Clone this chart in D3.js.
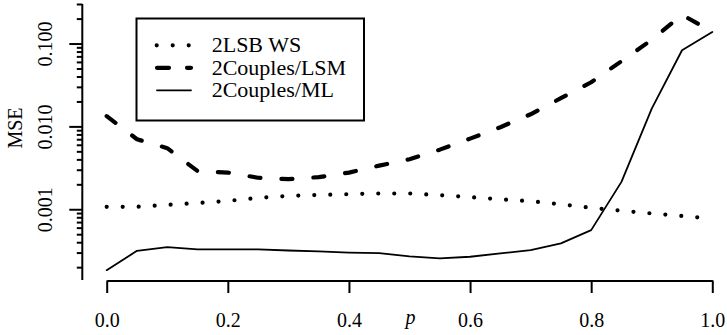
<html>
<script src="https://d3js.org/d3.v7.min.js"></script>
<body style="margin:0;background:#fff">
<style>
  svg text { font-family: "Liberation Serif", serif; fill: #000; }
</style>
<svg width="727" height="335"></svg>
<script>

// p grid
var pValues = [0, 0.05, 0.1, 0.15, 0.2, 0.25, 0.3, 0.35, 0.4, 0.45, 0.5,
               0.55, 0.6, 0.65, 0.7, 0.75, 0.8, 0.85, 0.9, 0.95, 1.0];

// MSE per method
var mse2LSB = [0.00107, 0.00107, 0.00113, 0.00119, 0.00126, 0.00137, 0.00145, 0.00149, 0.00152, 0.00155, 0.00155,
               0.00148, 0.00140, 0.00132, 0.00125, 0.00115, 0.00104, 0.00096, 0.00089, 0.00083, 0.00077];
var mseLSM  = [0.0133, 0.0070, 0.00546, 0.00289, 0.00277, 0.0024, 0.00231, 0.00244, 0.00277, 0.00336, 0.00402,
               0.00524, 0.00712, 0.00977, 0.0140, 0.0219, 0.0341, 0.0612, 0.111, 0.222, 0.139];
var mseML   = [0.000184, 0.000315, 0.000349, 0.000327, 0.000327, 0.000327, 0.000318, 0.00031, 0.0003, 0.000295, 0.00027,
               0.000255, 0.000267, 0.000293, 0.000321, 0.000387, 0.00056, 0.00214, 0.0164, 0.083, 0.138];

var seriesNames = ["2LSB WS", "2Couples/LSM", "2Couples/ML"];
var xTicks = [0, 0.2, 0.4, 0.6, 0.8, 1.0];
var yMajor = [0.001, 0.01, 0.1];
var yMinor = [0.0002, 0.0003, 0.0004, 0.0005, 0.0006, 0.0007, 0.0008, 0.0009,
              0.002, 0.003, 0.004, 0.005, 0.006, 0.007, 0.008, 0.009,
              0.02, 0.03, 0.04, 0.05, 0.06, 0.07, 0.08, 0.09,
              0.2, 0.3];

var serif = "'Liberation Serif', serif";
var svg = d3.select("svg");

var x = d3.scaleLinear().domain([0, 1]).range([106.7, 712.3]);
var y = d3.scaleLog().domain([1.4e-4, 0.3]).range([280, 4]);

var styles = [
  { dash: "0,16", width: 4.2, data: mse2LSB },
  { dash: "11,21", width: 4.2, data: mseLSM },
  { dash: null, width: 1.8, data: mseML }
];

var line = d3.line()
  .x(function(d, i) { return x(pValues[i]); })
  .y(function(d) { return y(d); });

styles.forEach(function(s) {
  svg.append("path")
    .datum(s.data)
    .attr("d", line)
    .style("fill", "none")
    .style("stroke", "black")
    .style("stroke-width", s.width)
    .style("stroke-linecap", "round")
    .style("stroke-linejoin", "round")
    .style("stroke-dasharray", s.dash);
});

// x axis
var gx = svg.append("g")
  .attr("transform", "translate(0,280.5)")
  .call(d3.axisBottom(x).tickValues(xTicks).tickFormat(d3.format(".1f")).tickSize(12.5).tickSizeOuter(0));
gx.attr("font-family", serif);
gx.selectAll("path, line").style("stroke", "black").style("stroke-width", 2);
gx.selectAll("text")
  .attr("y", 46.5).attr("dy", 0)
  .style("font-family", serif)
  .style("font-size", "20px");

// y axis: minor ticks then major with labels
var gyMinor = svg.append("g")
  .attr("transform", "translate(82.3,0)")
  .call(d3.axisLeft(y).tickValues(yMinor).tickFormat("").tickSize(5.5).tickSizeOuter(0));
gyMinor.select(".domain").attr("d", "M0,280V4");
gyMinor.selectAll("path, line").style("stroke", "black").style("stroke-width", 2);

var gy = svg.append("g")
  .attr("transform", "translate(82.3,0)")
  .call(d3.axisLeft(y).tickValues(yMajor).tickFormat(d3.format(".3f")).tickSize(13).tickSizeOuter(0));
gy.attr("font-family", serif);
gy.select(".domain").remove();
gy.selectAll("line").style("stroke", "black").style("stroke-width", 2);
gy.selectAll("text")
  .attr("transform", "rotate(-90)")
  .attr("x", 0).attr("y", -30.6).attr("dy", 0)
  .attr("text-anchor", "middle")
  .style("font-family", serif)
  .style("font-size", "20px");

// axis titles
svg.append("text")
  .attr("transform", "translate(22,128) rotate(-90)")
  .attr("text-anchor", "middle")
  .style("font-family", serif)
  .style("font-size", "20px")
  .text("MSE");

svg.append("text")
  .attr("x", x(0.5) + 1)
  .attr("y", 324)
  .attr("text-anchor", "middle")
  .style("font-family", serif)
  .style("font-size", "20px")
  .style("font-style", "italic")
  .text("p");

// legend
var legend = svg.append("g");
legend.append("rect")
  .attr("x", 136.5).attr("y", 18.5)
  .attr("width", 227.5).attr("height", 102)
  .style("fill", "white").style("stroke", "black").style("stroke-width", 2);

var rowY = [45.3, 67.8, 90.3];
seriesNames.forEach(function(name, i) {
  var s = styles[i];
  legend.append("line")
    .attr("x1", i === 0 ? 156.7 : 157).attr("x2", i === 0 ? 189.5 : 191)
    .attr("y1", rowY[i]).attr("y2", rowY[i])
    .style("stroke", "black")
    .style("stroke-width", s.width)
    .style("stroke-linecap", "round")
    .style("stroke-dasharray", i === 1 ? "12,18" : s.dash);
  legend.append("text")
    .attr("x", 211.7).attr("y", rowY[i] + 7)
    .style("font-family", serif)
    .style("font-size", "22px")
    .text(name);
});

</script>
</body>
</html>
